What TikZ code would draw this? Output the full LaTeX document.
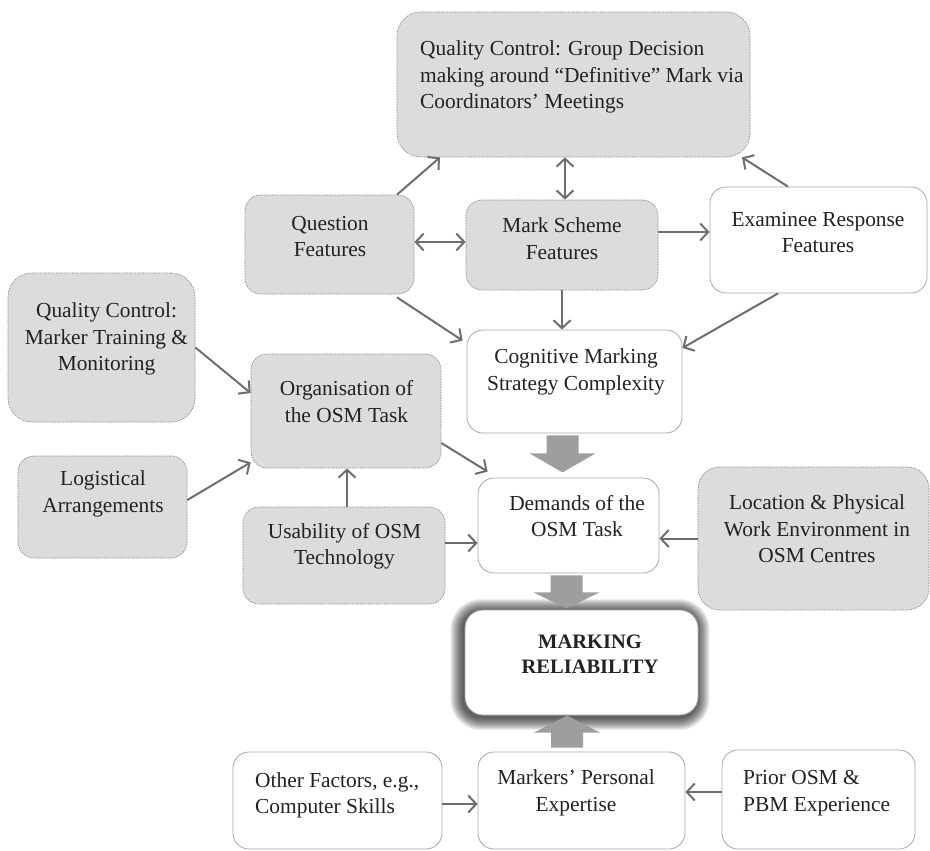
\documentclass[tikz,border=0pt]{standalone}
\usepackage{fontspec}
\setmainfont{Liberation Serif}
\usetikzlibrary{arrows.meta,calc,backgrounds}
\definecolor{boxgray}{HTML}{DCDCDE}
\definecolor{dashgray}{HTML}{8E8E8E}
\definecolor{linegray}{HTML}{A8A8A8}
\definecolor{arrgray}{HTML}{6E6E6E}
\definecolor{fatgray}{HTML}{9E9E9E}
\definecolor{txtc}{HTML}{222222}
\newcommand\fatarrow[3]{\fill[fat] ([xshift=-16pt]#1) -- ++(0,#2) -- ++(-17,0) -- ++(33,#3) -- ++(33,{-(#3)}) -- ++(-17,0) -- ++(0,{-(#2)}) -- cycle;}
\begin{document}
\begin{tikzpicture}[x=1pt,y=-1pt,
  gbox/.style={draw=dashgray, dash pattern=on 1.6pt off 1.1pt, fill=boxgray, rounded corners=16pt, line width=0.7pt, inner sep=0pt},
  wbox/.style={draw=linegray, fill=white, rounded corners=16pt, line width=0.8pt, inner sep=0pt},
  txt/.style={font=\fontsize{21.4}{26.5}\selectfont, align=center, inner sep=0pt, text=txtc},
  tip/.tip={Straight Barb[length=8pt,width=17pt,line width=2pt]},
  arr/.style={draw=arrgray, line width=2pt, -tip},
  darr/.style={draw=arrgray, line width=2pt, tip-tip},
  fat/.style={fill=fatgray}]
\useasboundingbox (0,0) rectangle (930,851);

% boxes
\node[gbox, rounded corners=24pt, minimum width=353pt, minimum height=145pt] (qcg) at (573.5,84.5) {};
\node[gbox, minimum width=169pt, minimum height=99pt] (q) at (329.5,244.5) {};
\node[gbox, minimum width=192pt, minimum height=90pt] (ms) at (562,245) {};
\node[wbox, minimum width=217pt, minimum height=106pt] (er) at (818.5,240) {};
\node[wbox, minimum width=215pt, minimum height=103pt] (cm) at (574.5,381.5) {};
\node[gbox, rounded corners=24pt, minimum width=187pt, minimum height=149pt] (qcm) at (101.5,347.5) {};
\node[gbox, minimum width=190pt, minimum height=114pt] (org) at (346,411) {};
\node[gbox, minimum width=169pt, minimum height=102pt] (la) at (102.5,507) {};
\node[gbox, minimum width=202pt, minimum height=97pt] (u) at (344,555.5) {};
\node[wbox, minimum width=181pt, minimum height=95pt] (d) at (568.5,525.5) {};
\node[gbox, rounded corners=22pt, minimum width=231pt, minimum height=143pt] (l) at (813.5,538.5) {};
\node[wbox, rounded corners=18pt, draw=gray!70, minimum width=233pt, minimum height=105pt] (mr) at (581.5,662.5) {};
\node[wbox, minimum width=209pt, minimum height=97pt] (of) at (337.5,800.5) {};
\node[wbox, minimum width=207pt, minimum height=97pt] (mk) at (581.5,800.5) {};
\node[wbox, minimum width=193pt, minimum height=99pt] (po) at (818.5,799.5) {};

% glow behind reliability box
\begin{scope}[on background layer]
\fill[white] (0,0) rectangle (930,851);
\foreach \i [evaluate=\i as \r using 0.8*\i, evaluate=\i as \rc using 18+0.8*\i] in {1,...,16}
  \fill[black, opacity=0.055, rounded corners=\rc pt] ($(mr.north west)+(-\r-1.5,-\r+2)$) rectangle ($(mr.south east)+(\r-1.5,\r+2)$);
\end{scope}

% texts
\node[txt, align=left, anchor=west] (qcgt) at (420,77) {Quality Control: Group Decision\\making around “Definitive” Mark via\\Coordinators’ Meetings};
\node[txt] (qt) at (330,236.5) {Question\\Features};
\node[txt] (mst) at (562,238.5) {Mark Scheme\\Features};
\node[txt] (ert) at (818,232.5) {Examinee Response\\Features};
\node[txt] (cmt) at (576,372) {Cognitive Marking\\Strategy Complexity};
\node[txt] (qcmt) at (106.5,339) {Quality Control:\\Marker Training \&\\Monitoring};
\node[txt] (orgt) at (346.5,401.5) {Organisation of\\the OSM Task};
\node[txt] (lat) at (103,494) {Logistical\\Arrangements};
\node[txt] (ut) at (344.5,546.5) {Usability of OSM\\Technology};
\node[txt] (dt) at (577,516) {Demands of the\\OSM Task};
\node[txt] (lt) at (817,529) {Location \& Physical\\Work Environment in\\OSM Centres};
\node[txt, font=\fontsize{20.5}{25.5}\selectfont\bfseries] (mrt) at (590,654) {MARKING\\RELIABILITY};
\node[txt, align=left, anchor=west] (oft) at (255,795.5) {Other Factors, e.g.,\\Computer Skills};
\node[txt] (mkt) at (576,793) {Markers’ Personal\\Expertise};
\node[txt, align=left, anchor=west] (pot) at (743,793) {Prior OSM \&\\PBM Experience};

% connectors
\draw[arr] ([xshift=67.5pt]q.north) -- ([xshift=-133.5pt]qcg.south);
\draw[darr] ([xshift=3pt]ms.north) -- ([xshift=-8.5pt]qcg.south);
\draw[arr] ([xshift=-30.5pt]er.north) -- ([xshift=168.5pt]qcg.south);
\draw[darr] ([yshift=2.5pt]q.east) -- ([yshift=2.5pt]q.east -| ms.west);
\draw[arr] ([yshift=13pt]ms.east) -- ([yshift=13pt]ms.east -| er.west);
\draw[arr] ([xshift=67.5pt,yshift=-3pt]q.south) -- ([xshift=-4pt,yshift=-11pt]cm.north west);
\draw[arr] (ms.south) -- (ms.south |- cm.north);
\draw[arr] ([xshift=-40.5pt]er.south) -- ([yshift=33.5pt]cm.east);
\draw[arr] (qcm.east) -- ([yshift=18pt]org.west);
\draw[arr] ([yshift=7pt]la.east) -- ([yshift=6pt]org.south west);
\draw[arr] ([xshift=3pt]u.north) -- ([xshift=3pt]u.north |- org.south);
\draw[arr] ([yshift=-32pt]org.east) -- ([xshift=10pt,yshift=6pt]d.north west);
\draw[arr] ([yshift=12.5pt]u.east) -- ([yshift=12.5pt]u.east -| d.west);
\draw[arr] (l.west) -- (l.west -| d.east);
\draw[arr] ([yshift=-3.5pt]of.east) -- ([yshift=-3.5pt]of.east -| mk.west);
\draw[arr] ([yshift=7.5pt]po.west) -- ([yshift=7.5pt]po.west -| mk.east);

% fat arrows
\coordinate (f1) at ($(cm.south)+(-12,2)$);
\coordinate (f2) at ($(d.south)+(-2,2)$);
\coordinate (f3) at ($(mk.north)+(-14.5,-4)$);
\fatarrow{f1}{18}{19}
\fatarrow{f2}{17}{16}
\fatarrow{f3}{-15}{-17}
\end{tikzpicture}
\end{document}
